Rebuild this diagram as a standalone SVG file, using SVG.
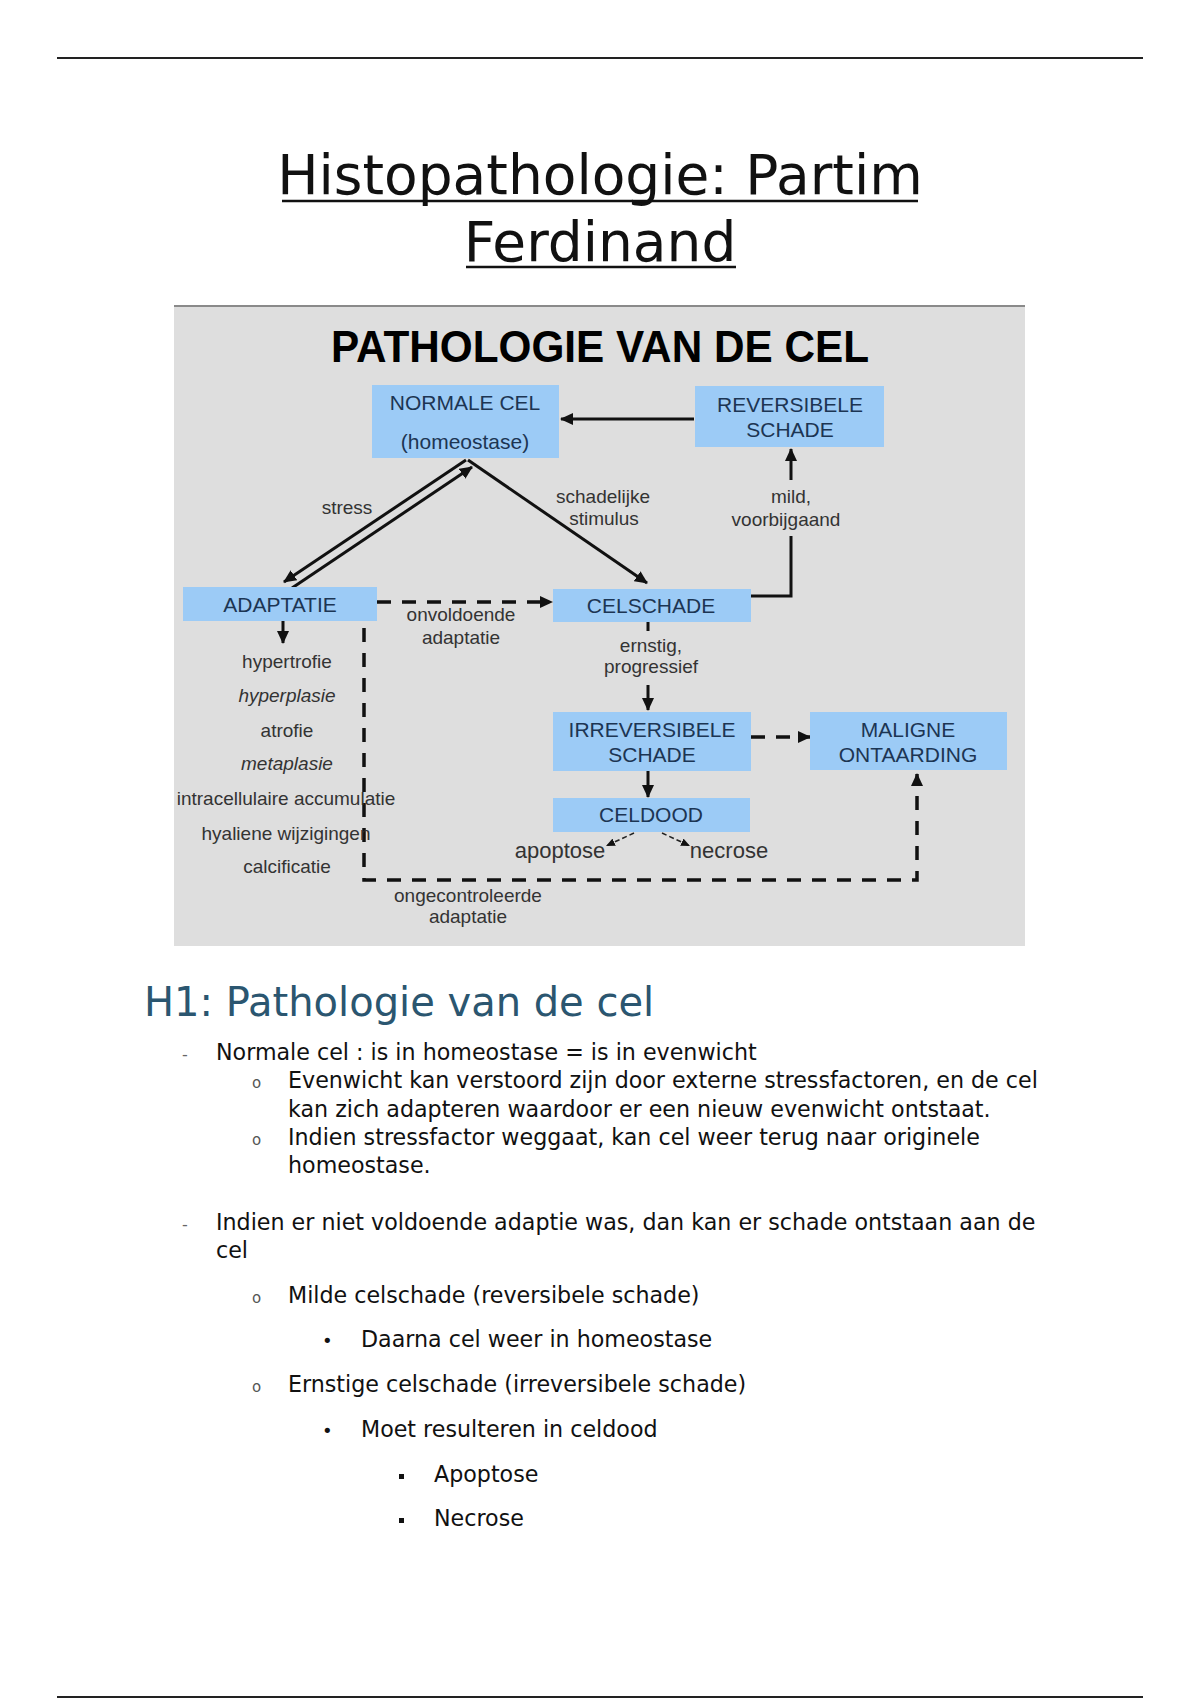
<svg xmlns="http://www.w3.org/2000/svg" width="1200" height="1700" viewBox="0 0 1200 1700">
<style>
.doc{font-family:'DejaVu Sans',sans-serif;fill:#111}
.title{font-size:55px;text-anchor:middle}
.h1{font-size:40px;fill:#2b5670}
.body{font-size:22.2px}
.box{fill:#9ccbf6}
.bt{font-family:'Liberation Sans',Arial,sans-serif;font-size:21px;fill:#1c3553;text-anchor:middle}
.lb{font-family:'Liberation Sans',Arial,sans-serif;font-size:19px;fill:#333;text-anchor:middle}
.big{font-size:22px}
.it{font-style:italic}
.ln{stroke:#111;stroke-width:3;fill:none}
.dash{stroke:#111;stroke-width:3.5;fill:none;stroke-dasharray:14 11}
.thin{stroke:#222;stroke-width:1.6;fill:none;stroke-dasharray:5 3}
.b1{font-size:16px;fill:#666}
.b2{font-size:15px;fill:#555}
</style>
<defs>
<marker id="ah" markerUnits="userSpaceOnUse" markerWidth="14" markerHeight="12" refX="12" refY="6" orient="auto"><path d="M0,0 L13,6 L0,12 z" fill="#111"/></marker>
<marker id="ahs" markerUnits="userSpaceOnUse" markerWidth="10" markerHeight="8" refX="9" refY="4" orient="auto"><path d="M0,0 L9,4 L0,8 z" fill="#111"/></marker>
</defs>
<rect width="1200" height="1700" fill="#ffffff"/>
<line x1="57" y1="58" x2="1143" y2="58" stroke="#222" stroke-width="2"/>
<line x1="57" y1="1697" x2="1143" y2="1697" stroke="#222" stroke-width="2"/>
<g id="title" class="doc">
<text x="600" y="194" class="title doc">Histopathologie: Partim</text>
<line x1="282" y1="201" x2="918" y2="201" stroke="#111" stroke-width="2.5"/>
<text x="600" y="261" class="title doc">Ferdinand</text>
<line x1="466" y1="267" x2="736" y2="267" stroke="#111" stroke-width="2.5"/>
</g>
<g id="diagram">
<rect x="174" y="306" width="851" height="640" fill="#dedede"/>
<line x1="174" y1="306" x2="1025" y2="306" stroke="#8a8a8a" stroke-width="2"/>
<text x="600" y="362" font-family="'Liberation Sans',Arial,sans-serif" font-weight="bold" font-size="44" text-anchor="middle" fill="#000" textLength="538" lengthAdjust="spacingAndGlyphs">PATHOLOGIE VAN DE CEL</text>
<g id="connectors">
<line x1="694" y1="419" x2="561" y2="419" class="ln" marker-end="url(#ah)"/>
<line x1="791" y1="480" x2="791" y2="449" class="ln" marker-end="url(#ah)"/>
<polyline points="751,596 791,596 791,536" class="ln"/>
<line x1="466" y1="460" x2="284" y2="582" class="ln" marker-end="url(#ah)"/>
<line x1="292" y1="588" x2="472" y2="467" class="ln" marker-end="url(#ah)"/>
<line x1="468" y1="460" x2="647" y2="583" class="ln" marker-end="url(#ah)"/>
<line x1="377" y1="602" x2="552" y2="602" class="dash" marker-end="url(#ah)"/>
<line x1="283" y1="621" x2="283" y2="643" class="ln" marker-end="url(#ah)"/>
<line x1="648" y1="622" x2="648" y2="631" class="ln"/>
<line x1="648" y1="685" x2="648" y2="710" class="ln" marker-end="url(#ah)"/>
<line x1="648" y1="771" x2="648" y2="797" class="ln" marker-end="url(#ah)"/>
<line x1="751" y1="737" x2="810" y2="737" class="dash" marker-end="url(#ah)"/>
<polyline points="364,628 364,880 917,880 917,774" class="dash" marker-end="url(#ah)"/>
<line x1="634" y1="833" x2="606" y2="846" class="thin" marker-end="url(#ahs)"/>
<line x1="662" y1="833" x2="690" y2="846" class="thin" marker-end="url(#ahs)"/>
</g>
<g id="normale">
<rect x="372" y="385" width="187" height="73" class="box"/>
<text x="465" y="410" class="bt">NORMALE CEL</text>
<text x="465" y="449" class="bt">(homeostase)</text>
</g>
<g id="reversibele">
<rect x="695" y="386" width="189" height="61" class="box"/>
<text x="790" y="412" class="bt">REVERSIBELE</text>
<text x="790" y="437" class="bt">SCHADE</text>
</g>
<g id="adaptatie">
<rect x="183" y="587" width="194" height="34" class="box"/>
<text x="280" y="612" class="bt">ADAPTATIE</text>
</g>
<g id="celschade">
<rect x="553" y="589" width="198" height="33" class="box"/>
<text x="651" y="613" class="bt">CELSCHADE</text>
</g>
<g id="irreversibele">
<rect x="553" y="712" width="198" height="59" class="box"/>
<text x="652" y="737" class="bt">IRREVERSIBELE</text>
<text x="652" y="762" class="bt">SCHADE</text>
</g>
<g id="maligne">
<rect x="810" y="712" width="197" height="58" class="box"/>
<text x="908" y="737" class="bt">MALIGNE</text>
<text x="908" y="762" class="bt">ONTAARDING</text>
</g>
<g id="celdood">
<rect x="553" y="798" width="197" height="34" class="box"/>
<text x="651" y="822" class="bt">CELDOOD</text>
</g>
<g id="labels">
<text x="347" y="514" class="lb">stress</text>
<text x="603" y="503" class="lb">schadelijke</text>
<text x="604" y="525" class="lb">stimulus</text>
<text x="791" y="503" class="lb">mild,</text>
<text x="786" y="526" class="lb">voorbijgaand</text>
<text x="461" y="621" class="lb">onvoldoende</text>
<text x="461" y="644" class="lb">adaptatie</text>
<text x="651" y="652" class="lb">ernstig,</text>
<text x="651" y="673" class="lb">progressief</text>
<text x="287" y="668" class="lb">hypertrofie</text>
<text x="287" y="702" class="lb it">hyperplasie</text>
<text x="287" y="737" class="lb">atrofie</text>
<text x="287" y="770" class="lb it">metaplasie</text>
<text x="286" y="805" class="lb">intracellulaire accumulatie</text>
<text x="286" y="840" class="lb">hyaliene wijzigingen</text>
<text x="287" y="873" class="lb">calcificatie</text>
<text x="468" y="902" class="lb">ongecontroleerde</text>
<text x="468" y="923" class="lb">adaptatie</text>
<text x="560" y="858" class="lb big">apoptose</text>
<text x="729" y="858" class="lb big">necrose</text>
</g>
</g>
<g id="notes" class="doc">
<text x="144" y="1016" class="h1 doc">H1: Pathologie van de cel</text>
<g class="body doc">
<text x="182" y="1060" class="b1">-</text>
<text x="216" y="1060">Normale cel : is in homeostase = is in evenwicht</text>
<text x="252" y="1088" class="b2">o</text>
<text x="288" y="1088">Evenwicht kan verstoord zijn door externe stressfactoren, en de cel</text>
<text x="288" y="1117">kan zich adapteren waardoor er een nieuw evenwicht ontstaat.</text>
<text x="252" y="1145" class="b2">o</text>
<text x="288" y="1145">Indien stressfactor weggaat, kan cel weer terug naar originele</text>
<text x="288" y="1173">homeostase.</text>
<text x="182" y="1230" class="b1">-</text>
<text x="216" y="1230">Indien er niet voldoende adaptie was, dan kan er schade ontstaan aan de</text>
<text x="216" y="1258">cel</text>
<text x="252" y="1303" class="b2">o</text>
<text x="288" y="1303">Milde celschade (reversibele schade)</text>
<text x="322" y="1347" font-size="18">•</text>
<text x="361" y="1347">Daarna cel weer in homeostase</text>
<text x="252" y="1392" class="b2">o</text>
<text x="288" y="1392">Ernstige celschade (irreversibele schade)</text>
<text x="322" y="1437" font-size="18">•</text>
<text x="361" y="1437">Moet resulteren in celdood</text>
<rect x="399" y="1474" width="5" height="5" fill="#111"/>
<text x="434" y="1482">Apoptose</text>
<rect x="399" y="1518" width="5" height="5" fill="#111"/>
<text x="434" y="1526">Necrose</text>
</g>
</g>
</svg>
